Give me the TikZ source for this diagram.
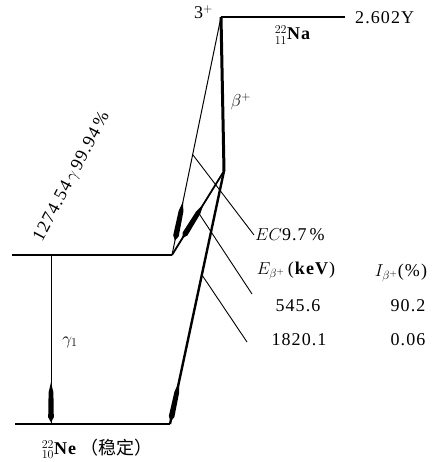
\documentclass[tikz,border=0pt]{standalone}
\usepackage{fontspec}
\setmainfont{Liberation Serif}[LetterSpace=6]
\newfontfamily\cjk{Noto Sans CJK SC}
\usetikzlibrary{decorations.markings}
\tikzset{
  lvl/.style={line width=2.4pt},
  trans/.style={line width=1pt},
  thin/.style={line width=0.9pt},
  lbl/.style={font=\fontsize{18}{20}\selectfont, inner sep=1pt},
  spindle/.style={postaction={decorate}, decoration={markings,
    mark=at position #1 with {\fill (-40pt,0pt) -- (-30pt,2.4pt) -- (-5pt,2.8pt) -- (0pt,0pt)
      -- (-5pt,-2.8pt) -- (-30pt,-2.4pt) -- cycle;}}}}

\begin{document}
\begin{tikzpicture}[x=1pt, y=-1pt]
  \useasboundingbox (0,0) rectangle (432,462);
  % level corners
  \coordinate (na) at (221,17);
  \coordinate (naR) at (345,17);
  \coordinate (kink) at (224,171);
  \coordinate (exL) at (12,255);
  \coordinate (exR) at (172,255);
  \coordinate (gsL) at (15,424);
  \coordinate (gsR) at (170,424);
  \coordinate (gtop) at (51,255);
  \coordinate (gbot) at (51,424);
  % levels
  \draw[lvl] (na) -- (naR);
  \draw[lvl] (exL) -- (exR);
  \draw[lvl] (gsL) -- (gsR);
  % transitions
  \draw[trans, spindle=0.94] (na) -- (exR);
  \draw[line width=3pt, line join=round] (na) -- (kink);
  \draw[line width=1.8pt, spindle=0.8] (kink) -- (exR);
  \draw[line width=2.4pt, spindle=0.99] (kink) -- (gsR);
  \draw[trans, spindle=0.99] (gtop) -- (gbot);
  % labels
  \node[lbl, left] (spin) at (214,12) {3$^+$};
  \node[lbl, right] (hl) at (354,18) {2.602Y};
  \node[lbl] (na22) at (293,35) {${}^{22}_{11}$\textbf{Na}};
  \node[lbl] (bp) at (241,102) {$\beta^+$};
  \node[lbl, rotate=62] (gline) at (72,177) {1274.54\,$\gamma$\,99.94\,\%};
  \node[lbl] (g1) at (70,342) {$\gamma_1$};
  \node[lbl] (ne22) at (97,449) {${}^{22}_{10}$\textbf{Ne}\,{\cjk （稳定）}};
  \node[lbl, anchor=west] (ec) at (254,235) {$EC$9.7\,\%};
  \node[lbl] (eb) at (296,271) {$E_{\beta^+}$\,(\textbf{keV})};
  \node[lbl] (ib) at (401,273) {$I_{\beta^+}$(\%)};
  \node[lbl] (e1) at (298,306) {545.6};
  \node[lbl] (i1) at (408,306) {90.2};
  \node[lbl] (e2) at (299,340) {1820.1};
  \node[lbl] (i2) at (408,340) {0.06};
  % branch pointers
  \coordinate (p1) at (193,155);
  \coordinate (p2) at (198,212);
  \coordinate (p3) at (202,275);
  \coordinate (q2) at (252,294);
  \coordinate (q3) at (247,342);
  \draw[thin] (p1) -- (ec.west);
  \draw[thin] (p2) -- (q2);
  \draw[thin] (p3) -- (q3);
\end{tikzpicture}
\end{document}
